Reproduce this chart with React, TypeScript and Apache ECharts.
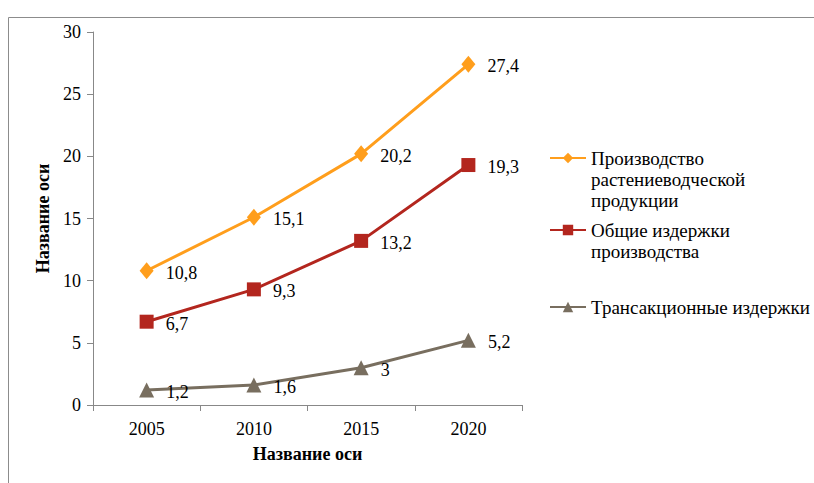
import React, { useEffect, useRef } from "react";
import * as echarts from "echarts";

const categories = ["2005", "2010", "2015", "2020"];
const seriesNames = [
  "Производство\nрастениеводческой\nпродукции",
  "Общие издержки\nпроизводства",
  "Трансакционные издержки",
];
const production = [10.8, 15.1, 20.2, 27.4];
const totalCosts = [6.7, 9.3, 13.2, 19.3];
const transactionCosts = [1.2, 1.6, 3, 5.2];
const yTicks = { min: 0, max: 30, interval: 5 };
const axisTitle = "Название оси";

const FONT = "Liberation Serif";
const colors = ["#FF9E1C", "#B3261E", "#786E5F"];
const symbols = ["diamond", "rect", "triangle"];
const symbolSizes = [[14, 17], 14, 15];

export default function App() {
  const ref = useRef<HTMLDivElement>(null);
  useEffect(() => {
    if (!ref.current) return;
    document.body.style.margin = "0";
    document.body.style.overflow = "hidden";
    const chart = echarts.init(ref.current, undefined, { renderer: "svg" });
    const data = [production, totalCosts, transactionCosts];
    const lh = 21;
    const iconY = [158, 230, 307];
    const lineCounts = seriesNames.map((n) => n.split("\n").length);
    chart.setOption({
      animation: false,
      backgroundColor: "#fff",
      graphic: [
        {
          type: "polyline",
          shape: { points: [[8.5, 483], [8.5, 17.5], [814, 17.5]] },
          style: { stroke: "#8c8c8c", lineWidth: 1, fill: "none" },
          silent: true,
        },
      ],
      grid: { left: 93, top: 32, right: 292, bottom: 78, containLabel: false },
      legend: seriesNames.map((name, i) => ({
        data: [name],
        orient: "vertical",
        left: 549,
        top: iconY[i] - ((2 * lineCounts[i] - 1) * lh) / 2,
        padding: 0,
        itemWidth: 36,
        itemHeight: 13,
        selectedMode: false,
        formatter: (n: string) => "\n".repeat(lineCounts[i] - 1) + n,
        textStyle: {
          fontFamily: FONT,
          fontSize: 19,
          color: "#000",
          lineHeight: lh,
        },
      })),
      xAxis: {
        type: "category",
        data: categories,
        boundaryGap: true,
        axisLine: { show: true, lineStyle: { color: "#888888", width: 1 } },
        axisTick: { show: true, alignWithLabel: false, length: 6, lineStyle: { color: "#888888" } },
        axisLabel: { fontFamily: FONT, fontSize: 18, color: "#000", margin: 15 },
        splitLine: { show: false },
        name: axisTitle,
        nameLocation: "middle",
        nameGap: 40,
        nameTextStyle: { fontFamily: FONT, fontSize: 18, fontWeight: "bold", color: "#000" },
      },
      yAxis: {
        type: "value",
        min: yTicks.min,
        max: yTicks.max,
        interval: yTicks.interval,
        axisLine: { show: true, lineStyle: { color: "#888888", width: 1 } },
        axisTick: { show: true, inside: false, length: 6, lineStyle: { color: "#888888" } },
        axisLabel: { fontFamily: FONT, fontSize: 18, color: "#000", margin: 12 },
        splitLine: { show: false },
        name: axisTitle,
        nameLocation: "middle",
        nameGap: 41,
        nameTextStyle: { fontFamily: FONT, fontSize: 18, fontWeight: "bold", color: "#000" },
      },
      series: seriesNames.map((name, i) => ({
        name,
        type: "line",
        data: data[i],
        symbol: symbols[i],
        symbolSize: symbolSizes[i],
        showAllSymbol: true,
        color: colors[i],
        lineStyle: { color: colors[i], width: 3 },
        itemStyle: { color: colors[i] },
        label: {
          show: true,
          position: "right",
          distance: 12,
          offset: [0, 2],
          fontFamily: FONT,
          fontSize: 18,
          color: "#000",
          formatter: (p: any) => String(p.value).replace(".", ","),
        },
        z: 3 - i,
      })),
    });
    return () => chart.dispose();
  }, []);
  return <div ref={ref} style={{ width: 814, height: 483 }} />;
}
